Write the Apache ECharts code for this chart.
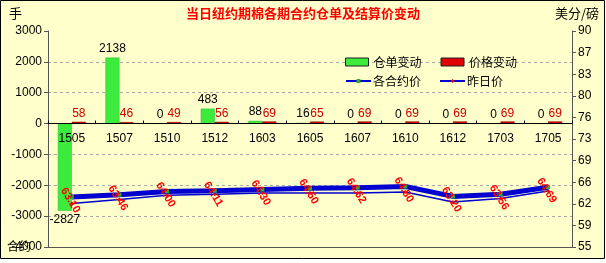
<!DOCTYPE html>
<html>
<head>
<meta charset="utf-8">
<script src="https://cdn.jsdelivr.net/npm/echarts@6/dist/echarts.min.js"></script>
<style>
html,body{margin:0;padding:0;background:#ffffff;}
#chart{width:606px;height:263px;}
</style>
</head>
<body>
<div id="chart"></div>
<script>
var categories = ['1505','1507','1510','1512','1603','1605','1607','1610','1612','1703','1705'];
var warrantChange = [-2827, 2138, 0, 483, 88, 16, 0, 0, 0, 0, 0];
var priceChange = [58, 46, 49, 56, 69, 65, 69, 69, 69, 69, 69];
var contractPrice = [63.10, 63.46, 64.00, 64.11, 64.30, 64.50, 64.62, 64.80, 63.20, 63.56, 64.69];
var prevPrice = [62.03, 62.68, 63.38, 63.55, 63.76, 63.76, 63.76, 63.92, 62.29, 62.85, 64.08];
var leftTicks = {min: -4000, max: 3000, step: 1000};
var rightTicks = {min: 55, max: 90, step: 3.5};
var seriesNames = ['仓单变动', '价格变动', '各合约价', '昨日价'];
var titleText = '当日纽约期棉各期合约仓单及结算价变动';
var leftUnit = '手';
var rightUnit = '美分/磅';
var bottomLeftText = '合约';

var FONT = "'Liberation Sans', 'Noto Sans CJK SC', sans-serif";
var CJK = "'Noto Sans CJK SC', sans-serif";

var W = 606, H = 263;
var GRID = {left: 48, right: 34, top: 31, bottom: 16};
var gridH = H - GRID.top - GRID.bottom;
// distance of the zero value line above the grid bottom, from the left axis range
var zeroUp = gridH * (0 - leftTicks.min) / (leftTicks.max - leftTicks.min);

var chart = echarts.init(document.getElementById('chart'), null, {renderer: 'canvas'});

var warrantData = warrantChange.map(function (v) {
  return {value: v, label: {position: v < 0 ? 'bottom' : 'top'}};
});

var option = {
  animation: false,
  backgroundColor: 'transparent',
  textStyle: {fontFamily: FONT},
  graphic: [
    {type: 'rect', z: -10, silent: true,
     shape: {x: 0.5, y: 0.5, width: 604, height: 258},
     style: {fill: '#FFFFCC', stroke: '#000000', lineWidth: 1}},
    {type: 'line', z: 1, silent: true,
     shape: {x1: GRID.left, y1: H - GRID.bottom + 0.5, x2: W - GRID.right, y2: H - GRID.bottom + 0.5},
     style: {stroke: '#555', lineWidth: 1}},
    {type: 'text', left: 'center', top: 7, z: 10,
     style: {text: titleText, fill: '#FF0000', font: 'bold 13px ' + CJK}},
    {type: 'text', left: 9, top: 7, z: 10,
     style: {text: leftUnit, fill: '#000000', font: '13px ' + CJK}},
    {type: 'text', right: 7, top: 7, z: 10,
     style: {text: rightUnit, fill: '#000000', font: '13px ' + CJK}},
    {type: 'text', left: 7, top: 240, z: 10,
     style: {text: bottomLeftText, fill: '#000000', font: '12px ' + CJK}}
  ],
  grid: {left: GRID.left, right: GRID.right, top: GRID.top, bottom: GRID.bottom, containLabel: false},
  legend: [
    {data: [seriesNames[0], seriesNames[1]], left: 340, top: 51, itemWidth: 23, itemHeight: 8,
     itemGap: 19, icon: 'rect', textStyle: {fontSize: 12, fontFamily: CJK, color: '#000'},
     itemStyle: {borderColor: '#222', borderWidth: 1}},
    {data: [seriesNames[2], seriesNames[3]], left: 340, top: 70, itemWidth: 25, itemHeight: 5,
     itemGap: 18, textStyle: {fontSize: 12, fontFamily: CJK, color: '#000', padding: [0, 0, 0, -3]}}
  ],
  xAxis: [
    {type: 'category', data: categories, z: 5, position: 'bottom', offset: -zeroUp,
     axisLine: {show: true, onZero: false, lineStyle: {color: '#000000', width: 1}},
     axisTick: {show: true, inside: true, length: 3, alignWithLabel: false, lineStyle: {color: '#000'}},
     axisLabel: {color: '#000', fontSize: 12, margin: 9, fontFamily: FONT},
     splitLine: {show: false}}
  ],
  yAxis: [
    {type: 'value', min: leftTicks.min, max: leftTicks.max, interval: leftTicks.step, position: 'left',
     axisLine: {show: true, lineStyle: {color: '#555', width: 1}},
     axisTick: {show: true, inside: false, length: 4, lineStyle: {color: '#555'}},
     axisLabel: {color: '#000', fontSize: 12, margin: 6, fontFamily: FONT,
       formatter: function (v) { return String(v); }},
     splitLine: {show: true, lineStyle: {
       color: ['transparent', '#A8A8A8', '#A8A8A8', '#A8A8A8', 'transparent', '#A8A8A8', '#A8A8A8', 'transparent'],
       type: [3, 3], width: 1}}},
    {type: 'value', min: rightTicks.min, max: rightTicks.max, interval: rightTicks.step, position: 'right',
     axisLine: {show: true, lineStyle: {color: '#555', width: 1}},
     axisTick: {show: true, inside: false, length: 4, lineStyle: {color: '#555'}},
     axisLabel: {color: '#000', fontSize: 12, margin: 6, fontFamily: FONT,
       formatter: function (v) { return String(Math.round(v)); }},
     splitLine: {show: false}}
  ],
  series: [
    {name: seriesNames[0], type: 'bar', xAxisIndex: 0, yAxisIndex: 0, data: warrantData,
     barWidth: 14, barGap: '0%',
     itemStyle: {color: '#3DEB3D', borderColor: '#2BB82B', borderWidth: 0.5},
     label: {show: true, color: '#000', fontSize: 12, distance: 3, fontFamily: FONT}},
    {name: seriesNames[1], type: 'bar', xAxisIndex: 0, yAxisIndex: 0, data: priceChange,
     barWidth: 14, barGap: '0%',
     itemStyle: {color: '#E00000', borderColor: '#7A0000', borderWidth: 0.5},
     label: {show: true, position: 'top', color: '#CC0000', fontSize: 12, distance: 2, fontFamily: FONT}},
    {name: seriesNames[2], type: 'line', xAxisIndex: 0, yAxisIndex: 1, data: contractPrice, z: 4,
     symbol: 'rect', symbolSize: 4, showSymbol: true,
     lineStyle: {color: '#0000D0', width: 5},
     itemStyle: {color: '#33AA33'},
     label: {show: true, position: 'inside', rotate: -58, offset: [2, 3], color: '#FF0000', fontSize: 11,
       fontWeight: 'bold', fontFamily: FONT,
       formatter: function (p) { return Number(p.value).toFixed(2); }}},
    {name: seriesNames[3], type: 'line', xAxisIndex: 0, yAxisIndex: 1, data: prevPrice, z: 3,
     symbol: 'diamond', symbolSize: 4, showSymbol: true,
     lineStyle: {color: '#0000D0', width: 1.5},
     itemStyle: {color: '#FF0000'}}
  ]
};
chart.setOption(option);
</script>
</body>
</html>
